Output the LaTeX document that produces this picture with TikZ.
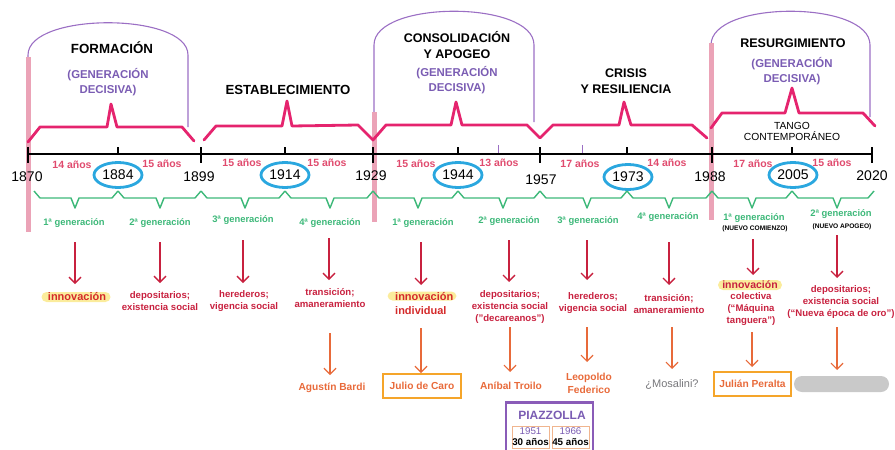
\documentclass[tikz,border=0pt]{standalone}
\usepackage{fontspec}
\setmainfont{Liberation Sans}
\usetikzlibrary{arrows.meta,shapes.geometric}
\definecolor{archpurple}{HTML}{9B6FC4}
\definecolor{txtpurple}{HTML}{7A5CB3}
\definecolor{bracepink}{HTML}{E5246E}
\definecolor{barpink}{HTML}{EBA3B7}
\definecolor{cyanring}{HTML}{2AA7DF}
\definecolor{gengreen}{HTML}{3DB879}
\definecolor{spanpink}{HTML}{E04B6E}
\definecolor{crimson}{HTML}{C8213F}
\definecolor{hlred}{HTML}{D42A2A}
\definecolor{hlyellow}{HTML}{FBEC9C}
\definecolor{orangetxt}{HTML}{E86A3A}
\definecolor{orangebox}{HTML}{F5A52A}
\definecolor{greytxt}{HTML}{77777B}
\definecolor{pillgrey}{HTML}{C9C9C9}
\definecolor{piabox}{HTML}{8A5CB8}
\definecolor{piainner}{HTML}{F0B58E}
\begin{document}
\begin{tikzpicture}[x=1pt,y=-1pt,
  lbl/.style={inner sep=0pt, align=center},
  period/.style={lbl, font=\fontsize{12.5}{16}\selectfont\bfseries},
  gendec/.style={lbl, text=txtpurple, font=\fontsize{11.4}{15}\selectfont\bfseries},
  yr/.style={lbl, font=\fontsize{14}{16}\selectfont},
  cyr/.style={yr, ellipse, draw=cyanring, line width=2.8pt, minimum width=48pt, minimum height=25pt},
  span/.style={lbl, text=spanpink, font=\fontsize{10.5}{12}\selectfont\bfseries},
  gen/.style={lbl, text=gengreen, font=\fontsize{9.4}{10}\selectfont\bfseries},
  gnote/.style={lbl, font=\fontsize{6.6}{8}\selectfont\bfseries},
  role/.style={lbl, text=crimson, font=\fontsize{9.6}{12}\selectfont\bfseries},
  innov/.style={lbl, text=hlred, font=\fontsize{11}{14}\selectfont\bfseries},
  hl/.style={fill=hlyellow, rounded corners=5pt, inner sep=0pt, minimum height=10pt},
  who/.style={lbl, text=orangetxt, font=\fontsize{10.2}{13}\selectfont\bfseries},
  whobox/.style={who, draw=orangebox, line width=1.2pt, minimum width=78pt, minimum height=24pt},
  redarr/.style={draw=crimson, line width=1.3pt, -{Straight Barb[length=6pt,width=12pt]}},
  orarr/.style={draw=orangetxt, line width=1.2pt, -{Straight Barb[length=6pt,width=12pt]}},
  arch/.style={draw=archpurple, line width=1.1pt},
  pbrace/.style={draw=bracepink, line width=2.8pt, line join=round, line cap=round},
  gbrace/.style={draw=gengreen, line width=1.4pt, line join=round},
  pbar/.style={draw=barpink, line width=5pt}
]
\useasboundingbox (0,0) rectangle (895,450);

% arches
\draw[arch] (28,140) -- (28,55) .. controls (28,12) and (188,12) .. (188,55) -- (188,127);
\draw[arch] (374,120) -- (374,45) .. controls (374,0) and (534,0) .. (534,45) -- (534,122);
\draw[arch] (711,120) -- (711,45) .. controls (711,0) and (870,0) .. (870,45) -- (870,117);

% pale pink bars
\draw[pbar] (28,57) -- (28,232);
\draw[pbar] (374,112) -- (374,222);
\draw[pbar] (711,43) -- (711,220);

% magenta braces
\draw[pbrace] (28,142) -- (40,127) -- (107,127) -- (111,104) -- (117,127) -- (182,127) -- (194,141);
\draw[pbrace] (204,140) -- (216,126) -- (282,126) -- (287,101) -- (292,126) -- (358,125) -- (373,140)
  -- (386,125) -- (451,125) -- (456,102) -- (462,125) -- (527,125) -- (540,138) -- (553,125)
  -- (619,125) -- (624,102) -- (631,125) -- (692,125) -- (707,138);
\draw[pbrace] (711,128) -- (722,113) -- (785,113) -- (792,88) -- (799,113) -- (863,113) -- (875,126);

% period titles
\node[period, font=\fontsize{13.3}{16}\selectfont\bfseries] (tform) at (112,48) {FORMACIÓN};
\node[gendec] (dform) at (108,82) {(GENERACIÓN\\DECISIVA)};
\node[period, font=\fontsize{13.2}{16}\selectfont\bfseries] (testa) at (288,90) {ESTABLECIMIENTO};
\node[period] (tcons) at (457,45) {CONSOLIDACIÓN\\Y APOGEO};
\node[gendec] (dcons) at (457,80) {(GENERACIÓN\\DECISIVA)};
\node[period] (tcris) at (626,81) {CRISIS\\Y RESILIENCIA};
\node[period] (tresu) at (793,43) {RESURGIMIENTO};
\node[gendec] (dresu) at (792,71.5) {(GENERACIÓN\\DECISIVA)};
\node[lbl, font=\fontsize{10.3}{11.5}\selectfont] (ttango) at (792,131.5) {TANGO\\CONTEMPORÁNEO};

% axis
\draw[line width=1.5pt] (27,154) -- (872,154);
\foreach \x in {28,201,373,540,712,872} \draw[line width=1.4pt] (\x,147) -- (\x,163);
\foreach \x in {118,285,458,627,792} \draw[line width=1.4pt] (\x,147) -- (\x,155);
\draw[archpurple, line width=1pt] (498,145) -- (498,153);
\draw[archpurple, line width=1pt] (582,145) -- (582,153);

% years
\node[yr] (y1870) at (27,177) {1870};
\node[yr] (y1899) at (199,177) {1899};
\node[yr] (y1929) at (371,176) {1929};
\node[yr] (y1957) at (541,180) {1957};
\node[yr] (y1988) at (710,177) {1988};
\node[yr] (y2020) at (872,176) {2020};
\node[cyr] (y1884) at (118,175) {1884};
\node[cyr] (y1914) at (285,175) {1914};
\node[cyr] (y1944) at (458,175) {1944};
\node[cyr] (y1973) at (628,177) {1973};
\node[cyr] (y2005) at (793,175) {2005};

% spans
\node[span] (s1) at (72,165) {14 años};
\node[span] (s2) at (162,164) {15 años};
\node[span] (s3) at (242,163) {15 años};
\node[span] (s4) at (327,163) {15 años};
\node[span] (s5) at (416,164) {15 años};
\node[span] (s6) at (499,163) {13 años};
\node[span] (s7) at (580,164) {17 años};
\node[span] (s8) at (667,163) {14 años};
\node[span] (s9) at (753,164) {17 años};
\node[span] (s10) at (832,163) {15 años};

% green braces
\foreach \a/\m/\b in {34/75/118, 118/160/201, 201/245/285, 285/330/373, 373/418/458, 458/503/540, 540/587/627, 627/669/712, 712/752/792, 792/837/874}
  \draw[gbrace] (\a,191) -- (\a+6,198) -- (\m-4,198) -- (\m,208) -- (\m+4,198) -- (\b-6,198) -- (\b,191);

% generations
\node[gen] (g1) at (74,223) {1ª generación};
\node[gen] (g2) at (160,223) {2ª generación};
\node[gen] (g3) at (243,220) {3ª generación};
\node[gen] (g4) at (330,223) {4ª generación};
\node[gen] (g5) at (423,223) {1ª generación};
\node[gen] (g6) at (509,221) {2ª generación};
\node[gen] (g7) at (588,221) {3ª generación};
\node[gen] (g8) at (668,217) {4ª generación};
\node[gen] (g9) at (754,218) {1ª generación};
\node[gnote] (n9) at (755,229) {(NUEVO COMIENZO)};
\node[gen] (g10) at (841,214) {2ª generación};
\node[gnote] (n10) at (842,227) {(NUEVO APOGEO)};

% roles
\node[hl, minimum width=69pt] (hl1) at (76,297) {};
\node[innov] (r1) at (77,297) {innovación};
\node[role] (r2) at (160,301) {depositarios;\\existencia social};
\node[role] (r3) at (244,301) {herederos;\\vigencia social};
\node[role] (r4) at (330,298) {transición;\\amaneramiento};
\node[hl, minimum width=69pt, minimum height=9pt] (hl5) at (422,296) {};
\node[innov, anchor=west] (r5a) at (395,297) {innovación};
\node[innov, anchor=west] (r5b) at (395,311) {individual};
\node[role] (r6) at (510,307) {depositarios;\\existencia social\\("decareanos")};
\node[role] (r7) at (593,303) {herederos;\\vigencia social};
\node[role] (r8) at (669,304) {transición;\\amaneramiento};
\node[hl, minimum width=64pt] (hl9) at (750,285) {};
\node[role, font=\fontsize{10.5}{12}\selectfont\bfseries] (r9a) at (750,285) {innovación};
\node[role] (r9b) at (751,309) {colectiva\\(“Máquina\\tanguera”)};
\node[role] (r10) at (841,302) {depositarios;\\existencia social\\(“Nueva época de oro”)};

% red arrows
\foreach \i/\x/\ya/\yb in {1/75/242/284, 2/160/242/283, 3/243/240/283, 4/329/238/280, 5/421/242/285, 6/509/240/282, 7/587/240/280, 8/669/242/285, 9/753/239/275, 10/837/235/278} {
  \coordinate (ra\i) at (\x,\ya);
  \coordinate (rb\i) at (\x,\yb);
  \draw[redarr] (ra\i) -- (rb\i);
}

% names
\node[who] (o1) at (332,388) {Agustín Bardi};
\node[whobox] (o2) at (422,386) {Julio de Caro};
\node[who] (o3) at (511,386) {Aníbal Troilo};
\node[who] (o4) at (589,383.5) {Leopoldo\\Federico};
\node[lbl, text=greytxt, font=\fontsize{11}{13}\selectfont] (o5) at (672,384) {¿Mosalini?};
\node[whobox, minimum width=77pt] (o6) at (752.5,384) {Julián Peralta};
\node[fill=pillgrey, rounded corners=8pt, minimum width=95pt, minimum height=16pt, inner sep=0pt] (o7) at (841.5,384) {};

% orange arrows
\foreach \i/\x/\ya/\yb in {1/330/333/375, 2/421/328/373, 3/510/327/372, 4/587/327/362, 5/672/327/369, 6/752/332/367, 7/837/327/370} {
  \coordinate (oa\i) at (\x,\ya);
  \coordinate (ob\i) at (\x,\yb);
  \draw[orarr] (oa\i) -- (ob\i);
}

% Piazzolla
\node[draw=piabox, line width=2.8pt, minimum width=87pt, minimum height=60pt, inner sep=0pt, anchor=north] (pia) at (549.5,401) {};
\node[lbl, text=txtpurple, font=\fontsize{12}{14}\selectfont\bfseries] (piat) at (552,415) {PIAZZOLLA};
\node[draw=piainner, line width=0.9pt, minimum width=37pt, minimum height=22pt, inner sep=0pt] (p1) at (530.5,437) {};
\node[draw=piainner, line width=0.9pt, minimum width=37pt, minimum height=22pt, inner sep=0pt] (p2) at (570.5,437) {};
\node[lbl, font=\fontsize{9.8}{11}\selectfont] (p1t) at (530.5,436.5) {\textcolor{txtpurple}{1951}\\\textbf{30 años}};
\node[lbl, font=\fontsize{9.8}{11}\selectfont] (p2t) at (570.5,436.5) {\textcolor{txtpurple}{1966}\\\textbf{45 años}};
\end{tikzpicture}
\end{document}
